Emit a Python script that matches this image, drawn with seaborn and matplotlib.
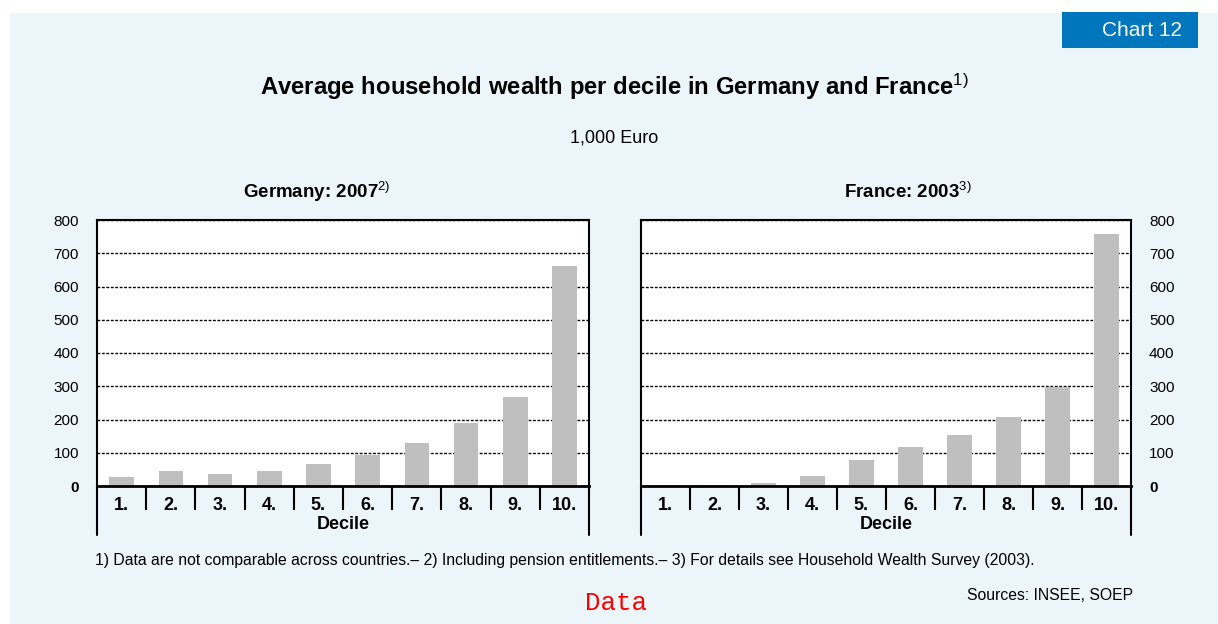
import matplotlib
matplotlib.use("Agg")
import matplotlib.pyplot as plt
import seaborn as sns
import pandas as pd
from matplotlib.patches import Rectangle
from matplotlib.lines import Line2D
import matplotlib.transforms as mtransforms

sns.set_theme(style="white")
plt.rcParams['font.family'] = ['Liberation Sans', 'DejaVu Sans']
plt.rcParams['mathtext.fontset'] = 'custom'
plt.rcParams['mathtext.rm'] = 'Liberation Sans'
plt.rcParams['mathtext.default'] = 'rm'
plt.rcParams['text.color'] = 'black'

deciles = ["1.", "2.", "3.", "4.", "5.", "6.", "7.", "8.", "9.", "10."]
germany_2007 = [28, 46, 37, 46, 65, 92, 128, 189, 267, 661]
france_2003 = [2, 2, 10, 31, 77, 116, 154, 207, 298, 758]
y_ticks = [0, 100, 200, 300, 400, 500, 600, 700, 800]

W, H = 1218, 624
fig = plt.figure(figsize=(W / 100, H / 100), dpi=100, facecolor="white")

def fx(x):
    return x / W

def fy(y):
    return 1 - y / H

bg = "#ECF5F9"
fig.patches.append(Rectangle((fx(10), 0), 1 - fx(10), fy(13), transform=fig.transFigure,
                             facecolor=bg, edgecolor="none", zorder=-5))
fig.patches.append(Rectangle((fx(1062), fy(48)), fx(1198 - 1062), (48 - 12) / H,
                             transform=fig.transFigure, facecolor="#0077BD",
                             edgecolor="none", zorder=-4))
fig.text(fx(1142), fy(31), "Chart 12", color="white", fontsize=15,
         ha="center", va="center")

fig.text(fx(614), fy(87), r"Average household wealth per decile in Germany and France$^{1)}$",
         fontsize=17.2, fontweight="bold", ha="center", va="center")
fig.text(fx(614), fy(138), "1,000 Euro", fontsize=13, ha="center", va="center")

fig.text(fx(317), fy(192), r"Germany: 2007$^{2)}$", fontsize=13.5, fontweight="bold",
         ha="center", va="center")
fig.text(fx(908), fy(192), r"France: 2003$^{3)}$", fontsize=13.5, fontweight="bold",
         ha="center", va="center")

panels = [
    (germany_2007, 97, 589, "left"),
    (france_2003, 641, 1131, "right"),
]

for values, x0, x1, side in panels:
    ax = fig.add_axes([fx(x0), fy(486), fx(x1 - x0), (486 - 220) / H])
    ax.set_facecolor("white")
    df = pd.DataFrame({"Decile": deciles, "Value": values})
    sns.barplot(data=df, x="Decile", y="Value", color="#BFBFBF", width=0.5,
                saturation=1, ax=ax, zorder=3)
    for b in ax.patches:
        b.set_edgecolor("none")
    ax.set_xlim(-0.5, len(deciles) - 0.5)
    ax.set_ylim(0, 800)
    ax.set_yticks(y_ticks)
    ax.set_yticklabels([str(t) for t in y_ticks])
    ax.yaxis.grid(True, linestyle=(0, (2, 1.2)), color="black", linewidth=1.0, zorder=1)
    ax.set_axisbelow(True)
    ax.xaxis.grid(False)
    for sp in ["left", "right", "top"]:
        ax.spines[sp].set_visible(True)
        ax.spines[sp].set_color("black")
        ax.spines[sp].set_linewidth(1.5)
    ax.spines["bottom"].set_linewidth(2.0)
    ax.spines["bottom"].set_color("black")
    ax.spines["bottom"].set_zorder(5)
    if side == "left":
        ax.yaxis.tick_left()
    else:
        ax.yaxis.tick_right()
    ax.tick_params(axis="y", length=0, pad=13, labelsize=11, colors="black")
    for lab in ax.get_yticklabels():
        if lab.get_text() == "0":
            lab.set_fontweight("bold")
    ax.tick_params(axis="x", which="major", length=0, pad=8, labelsize=13,
                   colors="black")
    for lab in ax.get_xticklabels():
        lab.set_fontweight("bold")
    ax.set_xticks([i + 0.5 for i in range(len(deciles) - 1)], minor=True)
    ax.tick_params(axis="x", which="minor", direction="out", length=17,
                   width=1.5, color="black", bottom=True)
    ax.set_xlabel("Decile", fontsize=13, fontweight="bold", labelpad=1, color="black")
    ax.set_ylabel("")
    trans = mtransforms.blended_transform_factory(ax.transData, fig.transFigure)
    for xe in (-0.5, len(deciles) - 0.5):
        ax.add_line(Line2D([xe, xe], [fy(535), fy(486)], transform=trans,
                           color="black", linewidth=1.5, clip_on=False))

fig.text(fx(95), fy(560),
         "1) Data are not comparable across countries.\u2013 2) Including pension entitlements.\u2013 "
         "3) For details see Household Wealth Survey (2003).",
         fontsize=11.3, ha="left", va="center")
fig.text(fx(1133), fy(595), "Sources: INSEE, SOEP", fontsize=11.3,
         ha="right", va="center")
fig.text(fx(616), fy(603), "Data", fontsize=18.5, color="#FF0000",
         family=['Liberation Mono', 'DejaVu Sans Mono'], ha="center", va="center")

fig.savefig("out.png", dpi=100, facecolor="white")
